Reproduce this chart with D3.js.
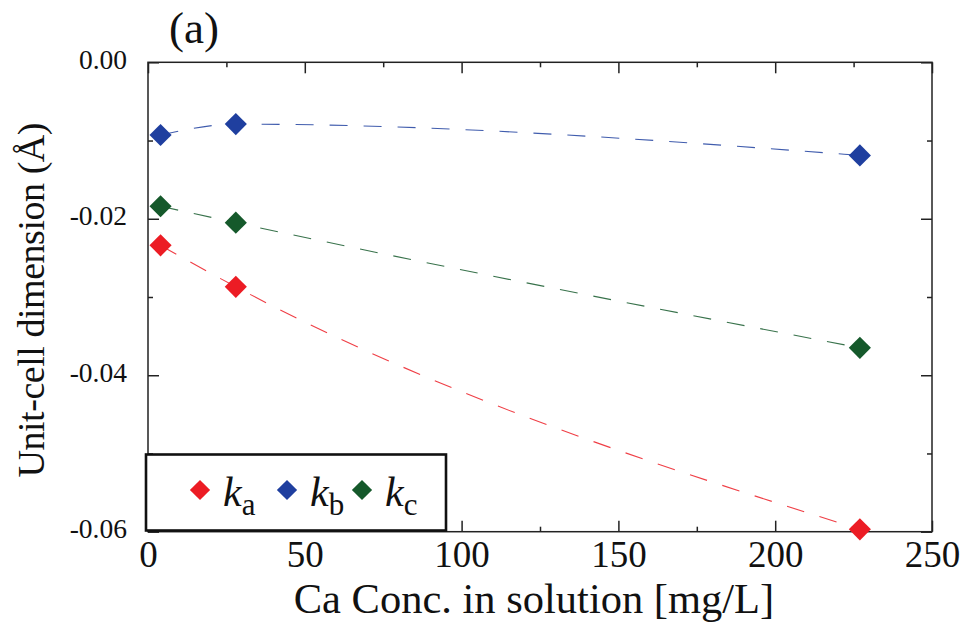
<!DOCTYPE html>
<html>
<head>
<meta charset="utf-8">
<script src="https://cdn.jsdelivr.net/npm/d3@7"></script>
</head>
<body style="margin:0;background:#fff">
<svg id="fig" width="961" height="627" style="display:block"></svg>
<script>
// ---- data ----
const concentration = [4, 28, 227];
const seriesNames = ["a", "b", "c"];
const ka = [-0.0234, -0.0287, -0.0597];
const kb = [-0.0093, -0.0079, -0.0119];
const kc = [-0.0184, -0.0205, -0.0365];
const seriesColors = ["#ec1c24", "#1f3f9f", "#15592b"];
const xTicks = [0, 50, 100, 150, 200, 250];
const xMinorTicks = [25, 75, 125, 175, 225];
const yTicks = [0, -0.02, -0.04, -0.06];
const yTickLabels = ["0.00", "-0.02", "-0.04", "-0.06"];
const yMinorTicks = [-0.01, -0.03, -0.05];

const FONT = '"Liberation Serif", serif';

const series = [ka, kb, kc].map((vals, i) => ({
  name: seriesNames[i],
  color: seriesColors[i],
  points: vals.map((v, j) => ({ x: concentration[j], y: v }))
}));

const svg = d3.select("#fig");
const L = 148, R = 932, T = 62.3, B = 531.7;
const x = d3.scaleLinear().domain([0, 250]).range([L, R]);
const y = d3.scaleLinear().domain([0, -0.06]).range([T, B]);

const axisColor = "#222";
const majorLen = 11, minorLen = 5;

function txt(sel, size) {
  return sel.style("font-family", FONT, "important")
    .style("font-size", size + "px").style("fill", "#111");
}

// frame
svg.append("rect")
  .attr("x", L).attr("y", T).attr("width", R - L).attr("height", B - T)
  .attr("fill", "none").attr("stroke", axisColor).attr("stroke-width", 1.5);

function styleAxis(g) {
  g.select(".domain").remove();
  g.attr("font-family", null).attr("font-size", null);
  g.selectAll(".tick line").attr("stroke", axisColor).attr("stroke-width", 1.5);
}

// bottom axis
const gB = svg.append("g").attr("transform", `translate(0,${B})`)
  .call(d3.axisBottom(x).tickValues(xTicks).tickSize(-majorLen).tickPadding(0).tickFormat(d3.format("d")));
styleAxis(gB);
txt(gB.selectAll(".tick text").attr("y", 35).attr("dy", 0), 37);
svg.append("g").attr("transform", `translate(0,${B})`)
  .call(d3.axisBottom(x).tickValues(xMinorTicks).tickSize(-minorLen).tickFormat(""))
  .call(styleAxis);

// top axis
svg.append("g").attr("transform", `translate(0,${T})`)
  .call(d3.axisTop(x).tickValues(xTicks).tickSize(-majorLen).tickFormat(""))
  .call(styleAxis);
svg.append("g").attr("transform", `translate(0,${T})`)
  .call(d3.axisTop(x).tickValues(xMinorTicks).tickSize(-minorLen).tickFormat(""))
  .call(styleAxis);

// left axis
const gL = svg.append("g").attr("transform", `translate(${L},0)`)
  .call(d3.axisLeft(y).tickValues(yTicks).tickSize(-majorLen).tickPadding(21)
    .tickFormat((d, i) => yTickLabels[i]));
styleAxis(gL);
txt(gL.selectAll(".tick text").attr("dy", 6), 27.5);
svg.append("g").attr("transform", `translate(${L},0)`)
  .call(d3.axisLeft(y).tickValues(yMinorTicks).tickSize(-minorLen).tickFormat(""))
  .call(styleAxis);

// right axis
svg.append("g").attr("transform", `translate(${R},0)`)
  .call(d3.axisRight(y).tickValues(yTicks).tickSize(-majorLen).tickFormat(""))
  .call(styleAxis);
svg.append("g").attr("transform", `translate(${R},0)`)
  .call(d3.axisRight(y).tickValues(yMinorTicks).tickSize(-minorLen).tickFormat(""))
  .call(styleAxis);

// lines
const line = d3.line().x(d => x(d.x)).y(d => y(d.y)).curve(d3.curveMonotoneX);
series.forEach(s => {
  svg.append("path")
    .datum(s.points)
    .attr("d", line)
    .attr("fill", "none")
    .attr("stroke", s.color)
    .attr("stroke-opacity", 0.85)
    .attr("stroke-width", 1.1)
    .attr("stroke-dasharray", "18,16");
});

// markers (diamonds)
const diamond = d3.symbol().type(d3.symbolSquare).size(245);
series.forEach(s => {
  svg.selectAll(null).data(s.points).enter().append("path")
    .attr("d", diamond)
    .attr("transform", d => `translate(${x(d.x)},${y(d.y)}) rotate(45)`)
    .attr("fill", s.color);
});

// legend
svg.append("rect")
  .attr("x", 146).attr("y", 454.5).attr("width", 300).attr("height", 76)
  .attr("fill", "#fff").attr("stroke", "#111").attr("stroke-width", 2.6);
const legendX = [200, 287, 362];
const legendDiamond = d3.symbol().type(d3.symbolSquare).size(205);
series.forEach((s, i) => {
  const g = svg.append("g");
  g.append("path").attr("d", legendDiamond)
    .attr("transform", `translate(${legendX[i]},490) rotate(45)`)
    .attr("fill", s.color);
  const t = txt(g.append("text").attr("x", legendX[i] + 23).attr("y", 506), 42);
  t.append("tspan").style("font-style", "italic").text("k");
  t.append("tspan").attr("dy", 9).style("font-size", "31px").text(s.name);
});

// axis titles
txt(svg.append("text")
  .attr("x", 534).attr("y", 613)
  .attr("text-anchor", "middle"), 42.5)
  .text("Ca Conc. in solution [mg/L]");

txt(svg.append("text")
  .attr("transform", "translate(44,300) rotate(-90)")
  .attr("text-anchor", "middle")
  .attr("textLength", 355)
  .attr("lengthAdjust", "spacing"), 38)
  .text("Unit-cell dimension (Å)");

// panel label
txt(svg.append("text")
  .attr("x", 194).attr("y", 43)
  .attr("text-anchor", "middle"), 45)
  .text("(a)");
</script>
</body>
</html>
